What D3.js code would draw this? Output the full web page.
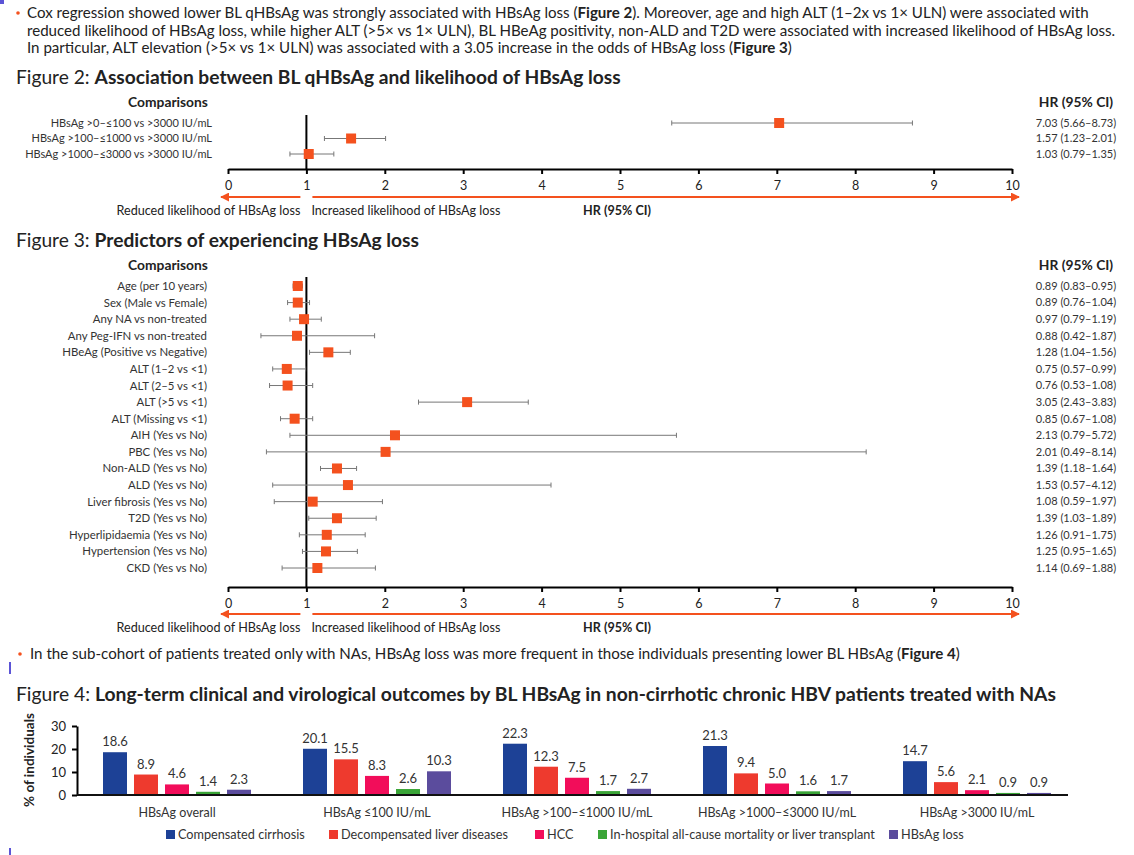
<!DOCTYPE html>
<html>
<head>
<meta charset="utf-8">
<title>HBsAg loss figures</title>
<script src="https://d3js.org/d3.v7.min.js"></script>
<style>
  body { margin: 0; background: #fff; }
  svg text { font-family: Lato, "Open Sans", sans-serif; fill: #222; }
  .tick text { font-size: 12.5px; }
</style>
</head>
<body>
<div id="chart"></div>
<script>
// Figure 2: HR by baseline qHBsAg
const fig2Labels = ['HBsAg >0–≤100 vs >3000 IU/mL', 'HBsAg >100–≤1000 vs >3000 IU/mL', 'HBsAg >1000–≤3000 vs >3000 IU/mL'];
const fig2HR = [7.03, 1.57, 1.03];
const fig2Lo = [5.66, 1.23, 0.79];
const fig2Hi = [8.73, 2.01, 1.35];

// Figure 3: predictors
const fig3Labels = ['Age (per 10 years)', 'Sex (Male vs Female)', 'Any NA vs non-treated', 'Any Peg-IFN vs non-treated',
  'HBeAg (Positive vs Negative)', 'ALT (1–2 vs <1)', 'ALT (2–5 vs <1)', 'ALT (>5 vs <1)', 'ALT (Missing vs <1)',
  'AIH (Yes vs No)', 'PBC (Yes vs No)', 'Non-ALD (Yes vs No)', 'ALD (Yes vs No)', 'Liver fibrosis (Yes vs No)',
  'T2D (Yes vs No)', 'Hyperlipidaemia (Yes vs No)', 'Hypertension (Yes vs No)', 'CKD (Yes vs No)'];
const fig3HR = [0.89, 0.89, 0.97, 0.88, 1.28, 0.75, 0.76, 3.05, 0.85, 2.13, 2.01, 1.39, 1.53, 1.08, 1.39, 1.26, 1.25, 1.14];
const fig3Lo = [0.83, 0.76, 0.79, 0.42, 1.04, 0.57, 0.53, 2.43, 0.67, 0.79, 0.49, 1.18, 0.57, 0.59, 1.03, 0.91, 0.95, 0.69];
const fig3Hi = [0.95, 1.04, 1.19, 1.87, 1.56, 0.99, 1.08, 3.83, 1.08, 5.72, 8.14, 1.64, 4.12, 1.97, 1.89, 1.75, 1.65, 1.88];

const hrTicks = [0, 1, 2, 3, 4, 5, 6, 7, 8, 9, 10];

// Figure 4: outcomes (% of individuals)
const fig4Groups = ['HBsAg overall', 'HBsAg ≤100 IU/mL', 'HBsAg >100–≤1000 IU/mL', 'HBsAg >1000–≤3000 IU/mL', 'HBsAg >3000 IU/mL'];
const fig4Series = ['Compensated cirrhosis', 'Decompensated liver diseases', 'HCC', 'In-hospital all-cause mortality or liver transplant', 'HBsAg loss'];
const cirrhosis = [18.6, 20.1, 22.3, 21.3, 14.7];
const decompensated = [8.9, 15.5, 12.3, 9.4, 5.6];
const hcc = [4.6, 8.3, 7.5, 5.0, 2.1];
const mortality = [1.4, 2.6, 1.7, 1.6, 0.9];
const hbsagLoss = [2.3, 10.3, 2.7, 1.7, 0.9];
const fig4Ticks = [0, 10, 20, 30];
const fig4Colors = ['#1d4196', '#ee3a2e', '#f20d5a', '#3aa537', '#5b4c9d'];

const width = 1134, height = 855;
const orange = '#f4511e';
const bodySize = 15.1;

const svg = d3.select('#chart').append('svg').attr('width', width).attr('height', height);
svg.append('rect').attr('width', width).attr('height', height).attr('fill', '#fff');

// little purple markers on the left edge
svg.append('rect').attr('x', 0).attr('y', 0).attr('width', 4).attr('height', 4).attr('fill', '#5b54d6');
svg.append('rect').attr('x', 9).attr('y', 662).attr('width', 2).attr('height', 12).attr('fill', '#5b54d6');
svg.append('rect').attr('x', 9).attr('y', 848).attr('width', 2).attr('height', 7).attr('fill', '#5b54d6');

const defs = svg.append('defs');
defs.append('marker').attr('id', 'arrow')
    .attr('viewBox', '0 0 10 10').attr('refX', 9).attr('refY', 5)
    .attr('markerWidth', 4.5).attr('markerHeight', 4.5).attr('orient', 'auto-start-reverse')
    .append('path').attr('d', 'M0,0 L10,5 L0,10 Z').attr('fill', orange);

// text line with bold pieces: parts = [[text, bold], ...]
function richLine(x, y, parts, size) {
    const t = svg.append('text').attr('x', x).attr('y', y).style('font-size', size + 'px');
    parts.forEach(p => {
        t.append('tspan').text(p[0]).style('font-weight', p[1] ? 700 : 400);
    });
    return t;
}
function bullet(x, y) {
    svg.append('circle').attr('cx', x).attr('cy', y).attr('r', 1.8).attr('fill', orange);
}

// intro text
bullet(18, 13);
richLine(27, 18, [['Cox regression showed lower BL qHBsAg was strongly associated with HBsAg loss ('], ['Figure 2', true], ['). Moreover, age and high ALT (1–2x vs 1× ULN) were associated with']], bodySize);
richLine(27, 35.5, [['reduced likelihood of HBsAg loss, while higher ALT (>5× vs 1× ULN), BL HBeAg positivity, non-ALD and T2D were associated with increased likelihood of HBsAg loss.']], bodySize);
richLine(27, 53, [['In particular, ALT elevation (>5× vs 1× ULN) was associated with a 3.05 increase in the odds of HBsAg loss ('], ['Figure 3', true], [')']], bodySize);

// figure titles
richLine(16, 84, [['Figure 2: '], ['Association between BL qHBsAg and likelihood of HBsAg loss', true]], 19.2);
richLine(16, 247, [['Figure 3: '], ['Predictors of experiencing HBsAg loss', true]], 19.2);

const x = d3.scaleLinear().domain([0, 10]).range([228, 1012]);

function forest(cfg) {
    const g = svg.append('g');
    const y = d3.scalePoint().domain(cfg.labels).range([cfg.rowTop, cfg.rowBottom]);

    g.append('text').attr('x', 168).attr('y', cfg.headerY).attr('text-anchor', 'middle')
        .style('font-size', '13.8px').style('font-weight', 700).text('Comparisons');
    g.append('text').attr('x', 1076).attr('y', cfg.headerY).attr('text-anchor', 'middle')
        .style('font-size', '13.8px').style('font-weight', 700).text('HR (95% CI)');

    g.selectAll('.lab').data(cfg.labels).join('text')
        .attr('x', cfg.labelX).attr('y', d => y(d)).attr('dy', '0.35em')
        .attr('text-anchor', 'end').style('font-size', cfg.labelSize + 'px').style('fill', '#333')
        .text(d => d);

    g.selectAll('.val').data(cfg.labels).join('text')
        .attr('x', 1076).attr('y', d => y(d)).attr('dy', '0.35em')
        .attr('text-anchor', 'middle').style('font-size', '11px').style('fill', '#333')
        .text((d, i) => `${cfg.hr[i].toFixed(2)} (${cfg.lo[i].toFixed(2)}–${cfg.hi[i].toFixed(2)})`);

    // axis
    const ax = g.append('g').attr('transform', `translate(0,${cfg.axisY})`)
        .call(d3.axisBottom(x).tickValues(hrTicks).tickSize(5).tickSizeOuter(0).tickPadding(7));
    ax.select('.domain').attr('stroke-width', 2);
    ax.selectAll('.tick line').attr('stroke-width', 2);

    // line of no effect
    g.append('line').attr('x1', x(1)).attr('x2', x(1)).attr('y1', cfg.top).attr('y2', cfg.axisY)
        .attr('stroke', '#000').attr('stroke-width', 2);

    // CIs
    const rows = g.selectAll('.row').data(cfg.labels).join('g')
        .attr('transform', d => `translate(0,${y(d)})`);
    rows.append('line').attr('x1', (d, i) => x(cfg.lo[i])).attr('x2', (d, i) => x(cfg.hi[i]))
        .attr('stroke', '#777').attr('stroke-width', 1);
    rows.append('line').attr('x1', (d, i) => x(cfg.lo[i])).attr('x2', (d, i) => x(cfg.lo[i]))
        .attr('y1', -2.5).attr('y2', 2.5).attr('stroke', '#777');
    rows.append('line').attr('x1', (d, i) => x(cfg.hi[i])).attr('x2', (d, i) => x(cfg.hi[i]))
        .attr('y1', -2.5).attr('y2', 2.5).attr('stroke', '#777');
    rows.append('rect').attr('x', (d, i) => x(cfg.hr[i]) - 5).attr('y', -5)
        .attr('width', 10).attr('height', 10).attr('fill', orange);

    // direction arrows
    g.append('line').attr('x1', x(1) - 6).attr('x2', x(0) - 7).attr('y1', cfg.arrowY).attr('y2', cfg.arrowY)
        .attr('stroke', orange).attr('stroke-width', 2).attr('marker-end', 'url(#arrow)');
    g.append('line').attr('x1', x(1) + 6).attr('x2', x(10) + 7).attr('y1', cfg.arrowY).attr('y2', cfg.arrowY)
        .attr('stroke', orange).attr('stroke-width', 2).attr('marker-end', 'url(#arrow)');
    g.append('text').attr('x', x(1) - 6).attr('y', cfg.noteY).attr('text-anchor', 'end')
        .style('font-size', '12.6px').text('Reduced likelihood of HBsAg loss');
    g.append('text').attr('x', x(1) + 5).attr('y', cfg.noteY)
        .style('font-size', '12.6px').text('Increased likelihood of HBsAg loss');
    g.append('text').attr('x', 617).attr('y', cfg.noteY).attr('text-anchor', 'middle')
        .style('font-size', '12.6px').style('font-weight', 700).text('HR (95% CI)');
}

forest({labels: fig2Labels, hr: fig2HR, lo: fig2Lo, hi: fig2Hi, headerY: 107, rowTop: 123, rowBottom: 154,
    labelX: 212, labelSize: 11, top: 115, axisY: 169, arrowY: 197, noteY: 215});
forest({labels: fig3Labels, hr: fig3HR, lo: fig3Lo, hi: fig3Hi, headerY: 270, rowTop: 286, rowBottom: 568,
    labelX: 207, labelSize: 11.4, top: 277, axisY: 587, arrowY: 614, noteY: 632});

// second bullet
bullet(20, 654);
richLine(30, 659, [['In the sub-cohort of patients treated only with NAs, HBsAg loss was more frequent in those individuals presenting lower BL HBsAg ('], ['Figure 4', true], [')']], bodySize);

richLine(16, 701, [['Figure 4: '], ['Long-term clinical and virological outcomes by BL HBsAg in non-cirrhotic chronic HBV patients treated with NAs', true]], 19.3);

// Figure 4 bars
const seriesValues = [cirrhosis, decompensated, hcc, mortality, hbsagLoss];
const x0 = d3.scaleBand().domain(fig4Groups).range([77, 1077]);
const x1 = d3.scaleBand().domain(fig4Series).range([-74, 74]).paddingInner(0.226);
const y4 = d3.scaleLinear().domain([0, 30]).range([795, 726]);
const fmt = d3.format('.1f');

const groups = svg.append('g').selectAll('g').data(fig4Groups).join('g')
    .attr('transform', d => `translate(${x0(d) + x0.bandwidth() / 2},0)`);
groups.selectAll('rect').data((d, gi) => fig4Series.map((s, si) => ({s, v: seriesValues[si][gi], c: fig4Colors[si]})))
    .join('rect')
    .attr('x', d => x1(d.s)).attr('width', x1.bandwidth())
    .attr('y', d => y4(d.v)).attr('height', d => y4(0) - y4(d.v))
    .attr('fill', d => d.c);
groups.selectAll('.vl').data((d, gi) => fig4Series.map((s, si) => ({s, v: seriesValues[si][gi]})))
    .join('text')
    .attr('x', d => x1(d.s) + x1.bandwidth() / 2).attr('y', d => y4(d.v) - 6)
    .attr('text-anchor', 'middle').style('font-size', '13px').style('fill', '#333')
    .text(d => fmt(d.v));
groups.append('text').attr('y', 817).attr('text-anchor', 'middle')
    .style('font-size', '12.5px').style('fill', '#333').text(d => d);

const yAx = svg.append('g').attr('transform', 'translate(77,0)')
    .call(d3.axisLeft(y4).tickValues(fig4Ticks).tickSize(5).tickSizeOuter(0).tickPadding(6));
yAx.select('.domain').attr('stroke-width', 2);
yAx.selectAll('.tick line').attr('stroke-width', 2);
yAx.selectAll('.tick text').style('font-size', '13px');
svg.append('line').attr('x1', 77).attr('x2', 1068).attr('y1', y4(0)).attr('y2', y4(0))
    .attr('stroke', '#111').attr('stroke-width', 2);
svg.append('text').attr('transform', 'translate(34,760) rotate(-90)').attr('text-anchor', 'middle')
    .style('font-size', '13.5px').style('font-weight', 700).text('% of individuals');

// legend
const legendX = [166, 329, 535, 598, 889];
const leg = svg.append('g').selectAll('g').data(fig4Series).join('g')
    .attr('transform', (d, i) => `translate(${legendX[i]},835)`);
leg.append('rect').attr('y', -5).attr('width', 9).attr('height', 9).attr('fill', (d, i) => fig4Colors[i]);
leg.append('text').attr('x', 12).attr('dy', '0.35em').style('font-size', '12.7px').style('fill', '#333').text(d => d);
</script>
</body>
</html>
